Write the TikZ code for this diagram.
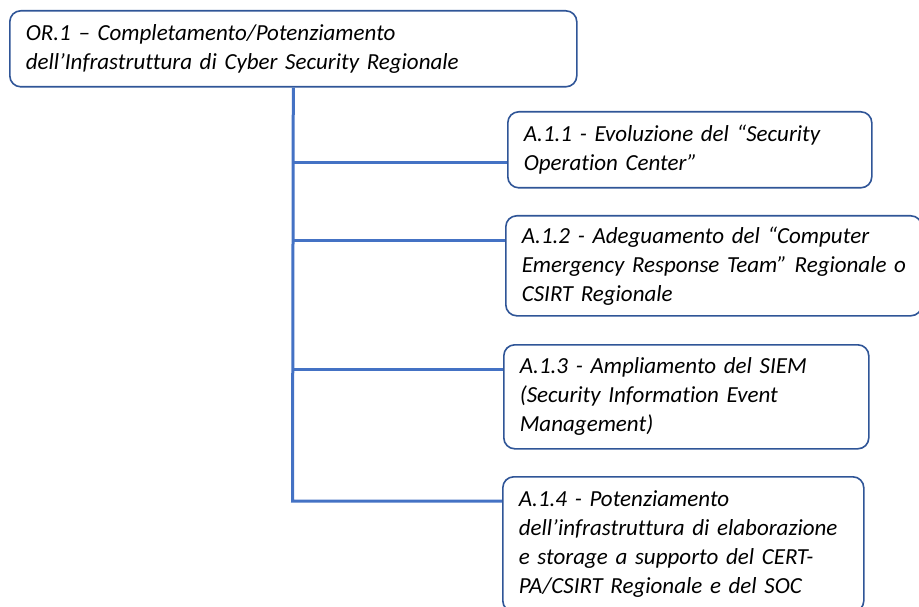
\documentclass[tikz,border=0pt]{standalone}
\usepackage{fontspec}
\setmainfont{Carlito}[RawFeature=-liga]
\definecolor{framenavy}{HTML}{2F5597}
\definecolor{linkblue}{HTML}{4472C4}
\newcommand{\goalfont}{\itshape\fontsize{23}{29}\selectfont\spaceskip=4pt plus 1pt minus 1pt\relax}
\tikzset{
  goal/.style={draw=framenavy, line width=1.6pt, rounded corners=11pt, anchor=north west,
    align=left, inner xsep=16pt, inner ysep=0pt, font=\goalfont},
  link/.style={draw=linkblue, line width=3pt, line join=miter}
}
\begin{document}
\begin{tikzpicture}[x=1pt, y=-1pt]
  \clip (0,0) rectangle (919,607);
  \useasboundingbox (0,0) rectangle (919,607);
  \node[goal, text width=535pt, minimum height=76pt] (OR_1) at (9, 10)
    {OR.1 – Completamento/Potenziamento\\dell’Infrastruttura di Cyber Security Regionale};
  \node[goal, text width=332pt, minimum height=76pt] (A_1_1) at (507, 111)
    {A.1.1 - Evoluzione del “Security\\Operation Center”};
  \node[goal, text width=384pt, minimum height=100pt] (A_1_2) at (505, 215)
    {A.1.2 - Adeguamento del “Computer\\\mbox{Emergency Response Team” Regionale o}\\CSIRT Regionale};
  \node[goal, text width=333pt, minimum height=104pt] (A_1_3) at (503, 344)
    {A.1.3 - Ampliamento del SIEM\\(Security Information Event\\Management)};
  \node[goal, text width=329pt, minimum height=135pt] (A_1_4) at (502, 476)
    {A.1.4 - Potenziamento\\dell’infrastruttura di elaborazione\\e storage a supporto del CERT-\\PA/CSIRT Regionale e del SOC};
  \coordinate (J_1) at (292.5, 163);
  \coordinate (J_2) at (292.5, 240);
  \coordinate (J_3) at (292.5, 369);
  \coordinate (J_4) at (292.5, 501);
  \draw[link] (OR_1.south) -- (J_4) -- (J_4 -| A_1_4.west);
  \draw[link] (J_1) -- (J_1 -| A_1_1.west);
  \draw[link] (J_2) -- (J_2 -| A_1_2.west);
  \draw[link] (J_3) -- (J_3 -| A_1_3.west);
\end{tikzpicture}
\end{document}
